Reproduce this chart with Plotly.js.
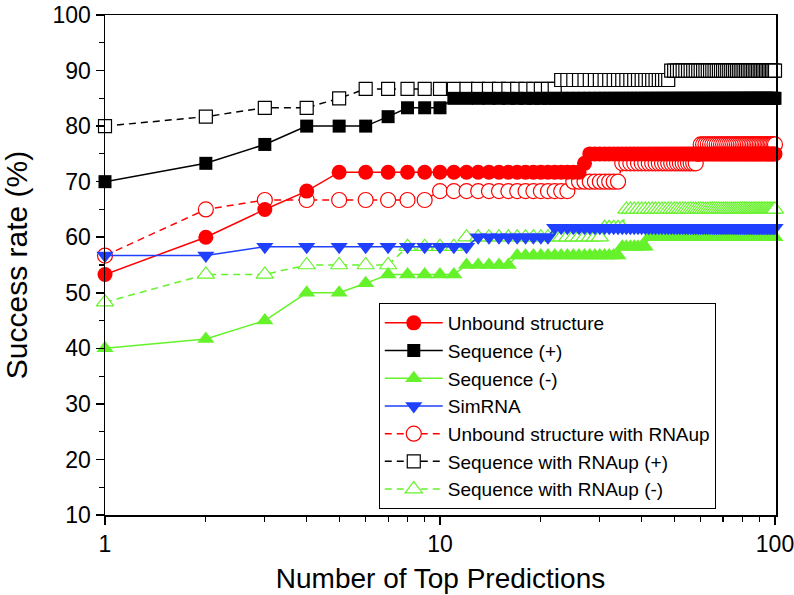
<!DOCTYPE html>
<html>
<head>
<meta charset="utf-8">
<script src="https://cdn.plot.ly/plotly-3.0.1.min.js"></script>
<style>html,body{margin:0;padding:0;background:#fff;}#chart{width:794px;height:595px;}</style>
</head>
<body>
<div id="chart"></div>
<script>
// Number of top predictions (x values)
const topN = [
  1,2,3,4,5,6,7,8,9,10,
  11,12,13,14,15,16,17,18,19,20,
  21,22,23,24,25,26,27,28,29,30,
  31,32,33,34,35,36,37,38,39,40,
  41,42,43,44,45,46,47,48,49,50,
  51,52,53,54,55,56,57,58,59,60,
  61,62,63,64,65,66,67,68,69,70,
  71,72,73,74,75,76,77,78,79,80,
  81,82,83,84,85,86,87,88,89,90,
  91,92,93,94,95,96,97,98,99,100
];

const seriesNames = [
  "Unbound structure",
  "Sequence (+)",
  "Sequence (-)",
  "SimRNA",
  "Unbound structure with RNAup",
  "Sequence with RNAup (+)",
  "Sequence with RNAup (-)"
];

const unbound = [
  53.3,60,65,68.3,71.7,71.7,71.7,71.7,71.7,71.7,
  71.7,71.7,71.7,71.7,71.7,71.7,71.7,71.7,71.7,71.7,
  71.7,71.7,71.7,71.7,71.7,71.7,73.3,75,75,75,
  75,75,75,75,75,75,75,75,75,75,
  75,75,75,75,75,75,75,75,75,75,
  75,75,75,75,75,75,75,75,75,75,
  75,75,75,75,75,75,75,75,75,75,
  75,75,75,75,75,75,75,75,75,75,
  75,75,75,75,75,75,75,75,75,75,
  75,75,75,75,75,75,75,75,75,75
];

const seqPlus = [
  70,73.3,76.7,80,80,80,81.7,83.3,83.3,83.3,
  85,85,85,85,85,85,85,85,85,85,
  85,85,85,85,85,85,85,85,85,85,
  85,85,85,85,85,85,85,85,85,85,
  85,85,85,85,85,85,85,85,85,85,
  85,85,85,85,85,85,85,85,85,85,
  85,85,85,85,85,85,85,85,85,85,
  85,85,85,85,85,85,85,85,85,85,
  85,85,85,85,85,85,85,85,85,85,
  85,85,85,85,85,85,85,85,85,85
];

const seqMinus = [
  40,41.7,45,50,50,51.7,53.3,53.3,53.3,53.3,
  53.3,55,55,55,55,55,56.7,56.7,56.7,56.7,
  56.7,56.7,56.7,56.7,56.7,56.7,56.7,56.7,56.7,56.7,
  56.7,56.7,56.7,56.7,58.3,58.3,58.3,58.3,58.3,58.3,
  58.3,60,60,60,60,60,60,60,60,60,
  60,60,60,60,60,60,60,60,60,60,
  60,60,60,60,60,60,60,60,60,60,
  60,60,60,60,60,60,60,60,60,60,
  60,60,60,60,60,60,60,60,60,60,
  60,60,60,60,60,60,60,60,60,60
];

const simRNA = [
  56.7,56.7,58.3,58.3,58.3,58.3,58.3,58.3,58.3,58.3,
  58.3,58.3,60,60,60,60,60,60,60,60,
  60,61.7,61.7,61.7,61.7,61.7,61.7,61.7,61.7,61.7,
  61.7,61.7,61.7,61.7,61.7,61.7,61.7,61.7,61.7,61.7,
  61.7,61.7,61.7,61.7,61.7,61.7,61.7,61.7,61.7,61.7,
  61.7,61.7,61.7,61.7,61.7,61.7,61.7,61.7,61.7,61.7,
  61.7,61.7,61.7,61.7,61.7,61.7,61.7,61.7,61.7,61.7,
  61.7,61.7,61.7,61.7,61.7,61.7,61.7,61.7,61.7,61.7,
  61.7,61.7,61.7,61.7,61.7,61.7,61.7,61.7,61.7,61.7,
  61.7,61.7,61.7,61.7,61.7,61.7,61.7,61.7,61.7,61.7
];

const unboundUp = [
  56.7,65,66.7,66.7,66.7,66.7,66.7,66.7,66.7,68.3,
  68.3,68.3,68.3,68.3,68.3,68.3,68.3,68.3,68.3,68.3,
  68.3,68.3,68.3,68.3,70,70,70,70,70,70,
  70,70,70,70,73.3,73.3,73.3,73.3,73.3,73.3,
  73.3,73.3,73.3,73.3,73.3,73.3,73.3,73.3,73.3,73.3,
  73.3,73.3,73.3,73.3,73.3,73.3,73.3,73.3,75,76.7,
  76.7,76.7,76.7,76.7,76.7,76.7,76.7,76.7,76.7,76.7,
  76.7,76.7,76.7,76.7,76.7,76.7,76.7,76.7,76.7,76.7,
  76.7,76.7,76.7,76.7,76.7,76.7,76.7,76.7,76.7,76.7,
  76.7,76.7,76.7,76.7,76.7,76.7,76.7,76.7,76.7,76.7
];

const seqUpPlus = [
  80,81.7,83.3,83.3,85,86.7,86.7,86.7,86.7,86.7,
  86.7,86.7,86.7,86.7,86.7,86.7,86.7,86.7,86.7,86.7,
  86.7,86.7,88.3,88.3,88.3,88.3,88.3,88.3,88.3,88.3,
  88.3,88.3,88.3,88.3,88.3,88.3,88.3,88.3,88.3,88.3,
  88.3,88.3,88.3,88.3,88.3,88.3,88.3,88.3,90,90,
  90,90,90,90,90,90,90,90,90,90,
  90,90,90,90,90,90,90,90,90,90,
  90,90,90,90,90,90,90,90,90,90,
  90,90,90,90,90,90,90,90,90,90,
  90,90,90,90,90,90,90,90,90,90
];

const seqUpMinus = [
  48.3,53.3,53.3,55,55,55,55,58.3,58.3,58.3,
  58.3,60,60,60,60,60,60,60,60,60,
  60,60,60,60,60,60,60,60,60,60,
  61.7,61.7,61.7,61.7,61.7,65,65,65,65,65,
  65,65,65,65,65,65,65,65,65,65,
  65,65,65,65,65,65,65,65,65,65,
  65,65,65,65,65,65,65,65,65,65,
  65,65,65,65,65,65,65,65,65,65,
  65,65,65,65,65,65,65,65,65,65,
  65,65,65,65,65,65,65,65,65,65
];

const yTickVals = [10,20,30,40,50,60,70,80,90,100];
const xTickVals = [1,10,100];
const xTickText = ["1","10","100"];

const RED = "#FF0000", BLACK = "#000000", GREEN = "#66F22A", BLUE = "#2040FF";
const FONT = "Liberation Sans, Arial, sans-serif";

function filled(name, y, color, symbol, size, rank) {
  return {
    type: "scatter", mode: "lines+markers", name: name, x: topN, y: y,
    line: {color: color, width: 1.5},
    marker: {color: color, symbol: symbol, size: size, line: {width: 0}},
    cliponaxis: false, legendrank: rank
  };
}
function open(name, y, color, symbol, size, rank) {
  return {
    type: "scatter", mode: "lines+markers", name: name, x: topN, y: y,
    line: {color: color, width: 1.5, dash: "7px,5px"},
    marker: {color: "#FFFFFF", symbol: symbol, size: size, line: {color: color, width: 1.2}},
    cliponaxis: false, legendrank: rank
  };
}

const traces = [
  open(seriesNames[4], unboundUp, RED, "circle", 15, 5),
  open(seriesNames[5], seqUpPlus, BLACK, "square", 13, 6),
  open(seriesNames[6], seqUpMinus, GREEN, "triangle-up", 15, 7),
  filled(seriesNames[0], unbound, RED, "circle", 15, 1),
  filled(seriesNames[1], seqPlus, BLACK, "square", 13, 2),
  filled(seriesNames[2], seqMinus, GREEN, "triangle-up", 15, 3),
  filled(seriesNames[3], simRNA, BLUE, "triangle-down", 15, 4)
];

const axisCommon = {
  showline: true, linecolor: "#000", linewidth: 1.5, mirror: true,
  ticks: "outside", ticklen: 8, tickwidth: 1.5, tickcolor: "#000",
  showgrid: false, zeroline: false, ticklabeloverflow: "allow",
  tickfont: {family: FONT, size: 23, color: "#000"}
};

const layout = {
  width: 794, height: 595,
  margin: {l: 105, r: 18, t: 15, b: 80},
  paper_bgcolor: "#fff", plot_bgcolor: "#fff",
  font: {family: FONT, color: "#000"},
  showlegend: true,
  legend: {
    x: 0.408, y: 0.424, xanchor: "left", yanchor: "top",
    bgcolor: "#fff", bordercolor: "#000", borderwidth: 1,
    font: {family: FONT, size: 19, color: "#000"},
    traceorder: "normal", tracegroupgap: 0, itemwidth: 58
  },
  xaxis: Object.assign({}, axisCommon, {
    type: "log", range: [0, 2.003],
    tickmode: "array", tickvals: xTickVals, ticktext: xTickText,
    minor: {tickvals: [2,3,4,5,6,7,8,9,20,30,40,50,60,70,80,90], ticks: "outside", ticklen: 5, tickwidth: 1.2, tickcolor: "#000", showgrid: false},
    title: {text: "Number of Top Predictions", font: {family: FONT, size: 28, color: "#000"}, standoff: 12}
  }),
  yaxis: Object.assign({}, axisCommon, {
    range: [10, 100],
    tickmode: "array", tickvals: yTickVals,
    minor: {tickvals: [15,25,35,45,55,65,75,85,95], ticks: "outside", ticklen: 5, tickwidth: 1.2, tickcolor: "#000", showgrid: false},
    title: {text: "Success rate (%)", font: {family: FONT, size: 30, color: "#000"}, standoff: 18}
  })
};

Plotly.newPlot("chart", traces, layout, {displayModeBar: false, staticPlot: true});
</script>
</body>
</html>
